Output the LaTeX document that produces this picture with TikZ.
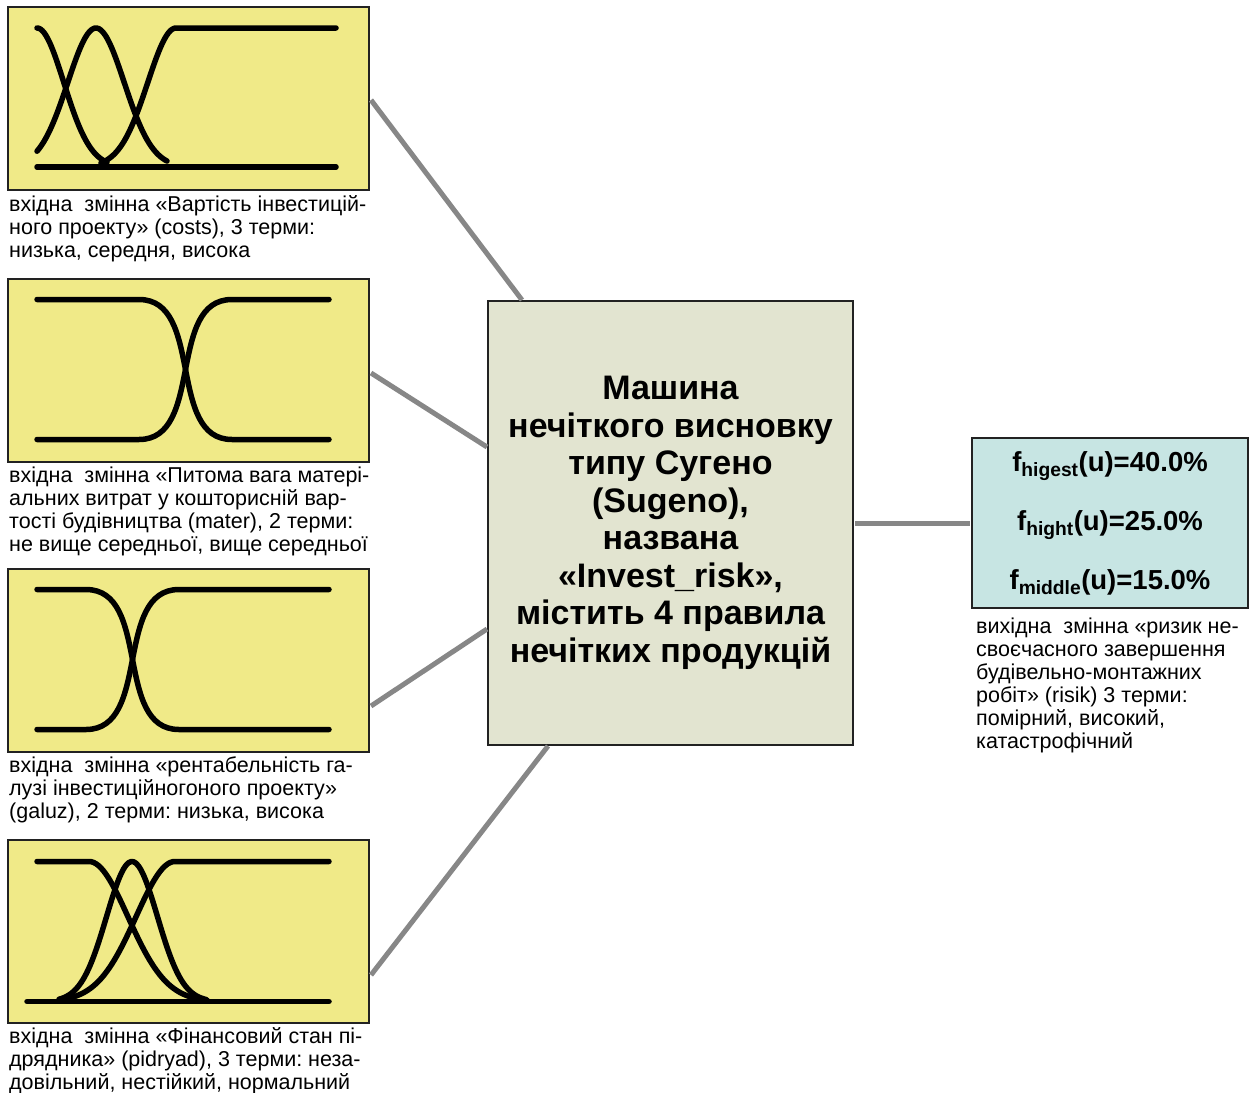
\documentclass[tikz,border=0pt]{standalone}
\usepackage{fontspec}
\setmainfont{Liberation Sans}
\usetikzlibrary{positioning,calc}
\frenchspacing

\definecolor{inyellow}{RGB}{240,234,136}
\definecolor{engfill}{RGB}{226,228,208}
\definecolor{outfill}{RGB}{199,229,227}
\definecolor{linkgray}{RGB}{135,135,135}
\definecolor{edge}{RGB}{34,34,34}

\begin{document}
\begin{tikzpicture}[x=1pt,y=1pt,
  inbox/.style={draw=edge,line width=2pt,fill=inyellow,minimum width=361pt,minimum height=183pt,inner sep=0pt},
  caption/.style={align=left,inner sep=0pt,font=\fontsize{21.5}{23}\selectfont,anchor=north west},
  mf/.style={line width=5.5pt,line cap=round,line join=round},
  link/.style={draw=linkgray,line width=5pt}]
\useasboundingbox (0,0) rectangle (1252,-1092);

% input variables
\node[inbox] (costs)   at (188.5,-98.5) {};
\node[inbox] (mater)   at (188.5,-370)  {};
\node[inbox] (galuz)   at (188.5,-660)  {};
\node[inbox] (pidryad) at (188.5,-931)  {};

\node[caption] (costs-cap) at ($(costs.south west)+(2,-4)$)
  {вхідна\ \ змінна «Вартість інвестицій-\\ного проекту» (costs), 3 терми:\\низька, середня, висока};
\node[caption] (mater-cap) at ($(mater.south west)+(2,-4)$)
  {вхідна\ \ змінна «Питома вага матері-\\альних витрат у кошторисній вар-\\тості будівництва (mater), 2 терми:\\не вище середньої, вище середньої};
\node[caption] (galuz-cap) at ($(galuz.south west)+(2,-4)$)
  {вхідна\ \ змінна «рентабельність га-\\лузі інвестиційногоного проекту»\\(galuz), 2 терми: низька, висока};
\node[caption] (pidryad-cap) at ($(pidryad.south west)+(2,-4)$)
  {вхідна\ \ змінна «Фінансовий стан пі-\\дрядника» (pidryad), 3 терми: неза-\\довільний, нестійкий, нормальний};

% membership functions
\begin{scope}[shift={(costs.north west)}]
  \draw[mf] (30,-161) -- (329,-161);
  \draw[mf] plot[domain=30:100,samples=40,smooth] (\x,{-161+139*exp(-((\x-30)/38)^2)});
  \draw[mf] plot[domain=30:160,samples=60,smooth] (\x,{-161+139*exp(-((\x-89)/40)^2)});
  \draw[mf] plot[domain=94:169,samples=40,smooth] (\x,{-161+139*exp(-((\x-169)/40)^2)}) -- (329,-22);
\end{scope}
\begin{scope}[shift={(mater.north west)}]
  \draw[mf] (30,-22) -- (132,-22) to[out=0,in=180] (225,-162) -- (322,-162);
  \draw[mf] (30,-162) -- (132,-162) to[out=0,in=180] (225,-22) -- (322,-22);
\end{scope}
\begin{scope}[shift={(galuz.north west)}]
  \draw[mf] (30,-22) -- (79,-22) to[out=0,in=180] (172,-162) -- (322,-162);
  \draw[mf] (30,-162) -- (79,-162) to[out=0,in=180] (172,-22) -- (322,-22);
\end{scope}
\begin{scope}[shift={(pidryad.north west)}]
  \draw[mf] (20,-163) -- (322,-163);
  \draw[mf] (30,-23) -- plot[domain=82:200,samples=50,smooth] (\x,{-163+140*exp(-((\x-82)/55)^2)});
  \draw[mf] plot[domain=52:199,samples=60,smooth] (\x,{-163+140*exp(-((\x-125)/36)^2)});
  \draw[mf] plot[domain=58:168,samples=50,smooth] (\x,{-163+140*exp(-((\x-168)/55)^2)}) -- (322,-23);
\end{scope}

% inference engine
\node[draw=edge,line width=2pt,fill=engfill,minimum width=365pt,minimum height=444pt,
  align=center,font=\bfseries\fontsize{34}{37.5}\selectfont] (engine) at (670.5,-523)
  {Машина\\нечіткого висновку\\типу Сугено\\(Sugeno),\\названа\\«Invest\_risk»,\\містить 4 правила\\нечітких продукцій};

% output variable
\node[draw=edge,line width=2pt,fill=outfill,minimum width=276pt,minimum height=170pt,
  align=center,font=\bfseries\fontsize{27.5}{59}\selectfont] (risk) at (1110,-523)
  {f\textsubscript{higest}(u)=40.0\%\\f\textsubscript{hight}(u)=25.0\%\\f\textsubscript{middle}(u)=15.0\%};
\node[caption] (risk-cap) at ($(risk.south west)+(5,-9)$)
  {вихідна\ \ змінна «ризик не-\\своєчасного завершення\\будівельно-монтажних\\робіт» (risik) 3 терми:\\помірний, високий,\\катастрофічний};

% links
\coordinate (e1) at ($(engine.north west)+(35,0)$);
\coordinate (e2) at ($(engine.north west)+(0,-147)$);
\coordinate (e3) at ($(engine.north west)+(0,-329)$);
\coordinate (e4) at ($(engine.south west)+(61,0)$);
\draw[link] ($(costs.east)+(1,-1.5)$) -- (e1);
\draw[link] ($(mater.east)+(1,-3)$) -- (e2);
\draw[link] ($(galuz.east)+(1,-46)$) -- (e3);
\draw[link] ($(pidryad.east)+(1,-44)$) -- (e4);
\draw[link] ($(engine.east)+(1,0)$) -- ($(risk.west)+(-1,0)$);
\end{tikzpicture}
\end{document}
